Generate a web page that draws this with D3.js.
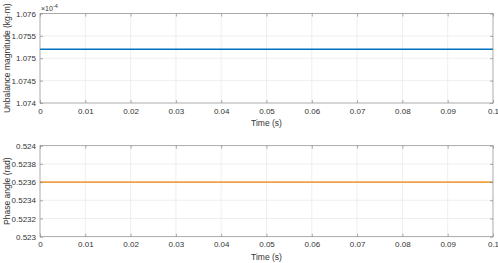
<!DOCTYPE html>
<html>
<head>
<meta charset="utf-8">
<script src="https://cdn.jsdelivr.net/npm/d3@7"></script>
<style>
  body { margin: 0; background: #fff; }
  text { font-family: "Liberation Sans", Arial, sans-serif; fill: #333; }
</style>
</head>
<body>
<script>
// time samples (s)
const timeS = [0, 0.1];
// unbalance magnitude (kg·m), constant
const magnitude = [1.0752e-4, 1.0752e-4];
// phase angle (rad), constant
const phase = [0.5236, 0.5236];

const xTicks = [0, 0.01, 0.02, 0.03, 0.04, 0.05, 0.06, 0.07, 0.08, 0.09, 0.1];
const magTicks = [1.074, 1.0745, 1.075, 1.0755, 1.076];   // ×10^-4
const phaseTicks = [0.523, 0.5232, 0.5234, 0.5236, 0.5238, 0.524];

const width = 498, height = 263;
const left = 40, right = 493;

const svg = d3.select("body").append("svg")
    .attr("width", width)
    .attr("height", height);

function panel(opts) {
    const { top, bottom, yDomain, yTicks, values, color, yLabel, yFormat } = opts;

    const x = d3.scaleLinear().domain([0, 0.1]).range([left, right]);
    const y = d3.scaleLinear().domain(yDomain).range([bottom, top]);

    const g = svg.append("g");

    // grid
    g.append("g").selectAll("line.vx")
        .data(xTicks.slice(1, -1))
        .join("line")
        .attr("x1", d => x(d)).attr("x2", d => x(d))
        .attr("y1", top).attr("y2", bottom)
        .attr("stroke", "#e8e8e8").attr("stroke-width", 0.7);
    g.append("g").selectAll("line.hy")
        .data(yTicks.slice(1, -1))
        .join("line")
        .attr("x1", left).attr("x2", right)
        .attr("y1", d => y(d)).attr("y2", d => y(d))
        .attr("stroke", "#e8e8e8").attr("stroke-width", 0.7);

    // data line
    const line = d3.line()
        .x((d, i) => x(timeS[i]))
        .y(d => y(d));
    g.append("path")
        .datum(values)
        .attr("fill", "none")
        .attr("stroke", color)
        .attr("stroke-width", 1.6)
        .attr("d", line);

    // axes (inward ticks, MATLAB style)
    const axStyle = sel => {
        sel.select(".domain").remove();
        sel.selectAll(".tick line").attr("stroke", "#777").attr("stroke-width", 0.6);
        sel.selectAll(".tick text").style("font-size", "8px").attr("fill", "#333");
    };

    g.append("g")
        .attr("transform", `translate(0,${bottom})`)
        .call(d3.axisBottom(x).tickValues(xTicks).tickSize(-3).tickPadding(5)
            .tickFormat(d => d3.format("~g")(d)))
        .call(axStyle);
    g.append("g")
        .attr("transform", `translate(0,${top})`)
        .call(d3.axisTop(x).tickValues(xTicks).tickSize(-3).tickFormat(""))
        .call(axStyle);

    g.append("g")
        .attr("transform", `translate(${left},0)`)
        .call(d3.axisLeft(y).tickValues(yTicks).tickSize(-3).tickPadding(4)
            .tickFormat(yFormat))
        .call(axStyle);
    g.append("g")
        .attr("transform", `translate(${right},0)`)
        .call(d3.axisRight(y).tickValues(yTicks).tickSize(-3).tickFormat(""))
        .call(axStyle);

    // box
    g.append("rect")
        .attr("x", left).attr("y", top)
        .attr("width", right - left).attr("height", bottom - top)
        .attr("fill", "none").attr("stroke", "#888").attr("stroke-width", 0.7);

    // labels
    g.append("text")
        .attr("x", (left + right) / 2)
        .attr("y", bottom + 23)
        .attr("text-anchor", "middle")
        .style("font-size", "8.5px")
        .text("Time (s)");

    g.append("text")
        .attr("transform", `translate(9.5,${(top + bottom) / 2}) rotate(-90)`)
        .attr("text-anchor", "middle")
        .style("font-size", "8.5px")
        .text(yLabel);

    return g;
}

panel({
    top: 13.5, bottom: 103,
    yDomain: [1.074e-4, 1.076e-4],
    yTicks: magTicks.map(d => d * 1e-4),
    values: magnitude,
    color: "#0072BD",
    yLabel: "Unbalance magnitude (kg·m)",
    yFormat: d => d3.format("~g")(+(d / 1e-4).toFixed(5))
});

// exponent marker
const expo = svg.append("text")
    .attr("x", 41)
    .attr("y", 10.5)
    .style("font-size", "7px");
expo.append("tspan").text("\u00d710");
expo.append("tspan").attr("dy", -3).style("font-size", "5.5px").text("-4");

panel({
    top: 145.7, bottom: 236.7,
    yDomain: [0.523, 0.524],
    yTicks: phaseTicks,
    values: phase,
    color: "#EDA347",
    yLabel: "Phase angle (rad)",
    yFormat: d => d3.format("~g")(+d.toFixed(5))
});
</script>
</body>
</html>
